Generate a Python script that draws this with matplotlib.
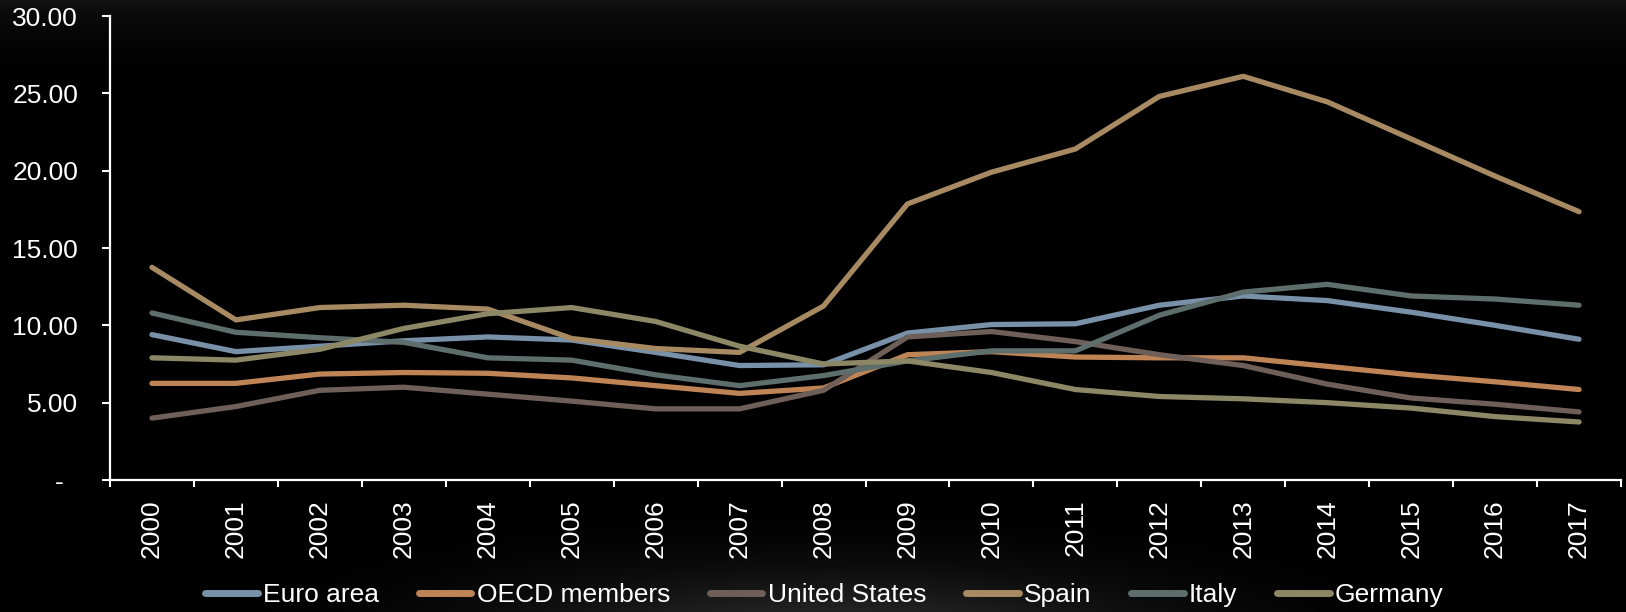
import numpy as np
import matplotlib.pyplot as plt
from matplotlib.ticker import FixedLocator, FixedFormatter

plt.rcParams['font.family'] = ['Liberation Sans', 'DejaVu Sans']

years = [str(y) for y in range(2000, 2018)]

euro_area = [9.4, 8.3, 8.65, 9.0, 9.25, 9.05, 8.25, 7.4, 7.45, 9.5,
             10.05, 10.1, 11.3, 11.9, 11.6, 10.85, 10.0, 9.1]
oecd = [6.25, 6.25, 6.85, 6.95, 6.9, 6.6, 6.1, 5.6, 5.95, 8.1,
        8.3, 7.95, 7.9, 7.9, 7.35, 6.8, 6.35, 5.85]
united_states = [4.0, 4.75, 5.8, 6.0, 5.55, 5.1, 4.6, 4.6, 5.8, 9.25,
                 9.6, 8.95, 8.1, 7.4, 6.2, 5.3, 4.9, 4.4]
spain = [13.75, 10.35, 11.15, 11.3, 11.05, 9.15, 8.5, 8.25, 11.25, 17.85,
         19.9, 21.4, 24.8, 26.1, 24.45, 22.05, 19.65, 17.35]
italy = [10.8, 9.55, 9.2, 8.9, 7.9, 7.75, 6.8, 6.1, 6.75, 7.7,
         8.35, 8.35, 10.65, 12.15, 12.65, 11.9, 11.7, 11.3]
germany = [7.9, 7.75, 8.45, 9.8, 10.75, 11.15, 10.25, 8.65, 7.5, 7.7,
           6.95, 5.85, 5.4, 5.25, 5.0, 4.65, 4.1, 3.75]

series = [
    ('Euro area', euro_area, '#7891a8'),
    ('OECD members', oecd, '#bf8456'),
    ('United States', united_states, '#6e6058'),
    ('Spain', spain, '#a88a62'),
    ('Italy', italy, '#5d6e6d'),
    ('Germany', germany, '#8c8765'),
]

W, H = 1626, 612
fig = plt.figure(figsize=(W / 100, H / 100), dpi=100, facecolor='black')

# dark backdrop: faint haze along the top, soft glow behind the legend
bg = fig.add_axes([0, 0, 1, 1], zorder=-10)
yy, xx = np.mgrid[0:H, 0:W]
shade = 0.07 * np.exp(-yy / 30.0)
shade += 0.16 * np.exp(-((xx - 830) / 330.0) ** 2 - ((yy - 640) / 70.0) ** 2)
bg.imshow(np.dstack([shade] * 3).clip(0, 1), aspect='auto', extent=[0, 1, 0, 1])
bg.axis('off')

ax = fig.add_axes([110 / W, 1 - 480 / H, 1511 / W, 464 / H])
ax.set_facecolor('none')

x = np.arange(len(years))
for name, vals, col in series:
    ax.plot(x, vals, color=col, lw=3.8, label=name,
            solid_capstyle='round', solid_joinstyle='round')

ax.set_xlim(-0.5, len(years) - 0.5)
ax.set_ylim(0, 30)

ax.yaxis.set_major_locator(FixedLocator([0, 5, 10, 15, 20, 25, 30]))
ax.yaxis.set_major_formatter(
    FixedFormatter(['-  ', '5.00', '10.00', '15.00', '20.00', '25.00', '30.00']))
ax.tick_params(axis='y', colors='white', labelcolor='white', labelsize=19,
               length=6, width=1.5, pad=17)

ax.set_xticks(x)
ax.set_xticklabels(years, rotation=90)
ax.set_xticks(np.arange(-0.5, len(years)), minor=True)
ax.tick_params(axis='x', which='major', length=0, labelsize=19,
               labelcolor='white', pad=14)
ax.tick_params(axis='x', which='minor', length=5, width=1.5, color='white')

for side in ('top', 'right'):
    ax.spines[side].set_visible(False)
for side in ('left', 'bottom'):
    ax.spines[side].set_color('white')
    ax.spines[side].set_linewidth(1.6)

leg = fig.legend(loc='center', bbox_to_anchor=(0.507, 1 - 595 / H), ncol=6,
                 frameon=False, fontsize=19, handlelength=2.0,
                 handletextpad=0.2, columnspacing=1.5, labelcolor='white')
for h in leg.legend_handles:
    h.set_linewidth(5)
    h.set_solid_capstyle('round')

fig.savefig('out.png', dpi=100, facecolor='black')
